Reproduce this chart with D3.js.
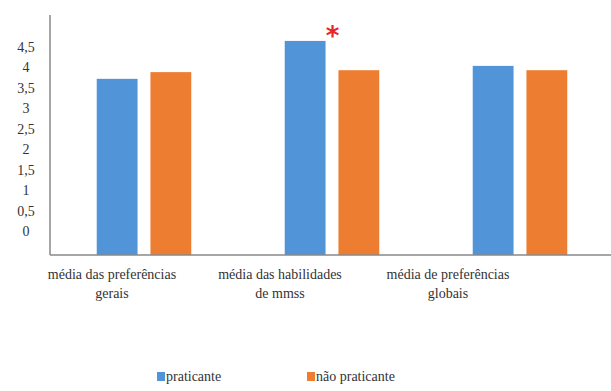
<!DOCTYPE html>
<html>
<head>
<meta charset="utf-8">
<script src="https://cdn.jsdelivr.net/npm/d3@7"></script>
</head>
<body style="margin:0;background:#fff">
<svg id="chart" width="611" height="391" font-family="Liberation Serif" style="display:block"></svg>
<script>
// Category labels (two lines each)
const categories = ["preferencias", "habilidades", "globais"];
const categoryLines = [
  ["média das preferências", "gerais"],
  ["média das habilidades", "de mmss"],
  ["média de preferências", "globais"]
];
const seriesNames = ["praticante", "não praticante"];
const praticante = [3.67, 4.46, 3.94];
const naoPraticante = [3.81, 3.85, 3.85];
const tickValues = [0, 0.5, 1, 1.5, 2, 2.5, 3, 3.5, 4, 4.5];
const tickLabels = ["0", "0,5", "1", "1,5", "2", "2,5", "3", "3,5", "4", "4,5"];
const significant = ["habilidades"]; // group with marked difference (praticante)

const colors = ["#5195d8", "#ed7d31"];
const serif = "Liberation Serif";

const svg = d3.select("#chart");

// Value scale and category scales
const y = d3.scaleLinear().domain([0, 5]).range([255, 15]);
const x = d3.scaleBand().domain(categories).range([50, 614]).paddingInner(0).paddingOuter(0);
const xInner = d3.scaleBand().domain(seriesNames).range([0, x.bandwidth()]).paddingInner(0.24).paddingOuter(0.87);

// Tick label column sits in its own slot to the left of the axis line
const yLabels = d3.scaleLinear().domain([0, 4.5]).range([231, 47]);
const labelAxis = d3.axisLeft(yLabels)
  .tickValues(tickValues)
  .tickFormat((d, i) => tickLabels[i])
  .tickSize(0)
  .tickPadding(0);
const gy = svg.append("g").attr("transform", "translate(26,0)").call(labelAxis);
gy.attr("font-family", serif).attr("font-size", 14);
gy.select(".domain").remove();
gy.selectAll("text")
  .attr("text-anchor", "middle")
  .attr("font-family", serif)
  .attr("font-size", 14)
  .attr("fill", "#333");

// Bars
const data = categories.map((c, i) => ({ cat: c, values: [praticante[i], naoPraticante[i]] }));
const groups = svg.append("g").selectAll("g").data(data).join("g")
  .attr("transform", d => `translate(${x(d.cat)},0)`);
groups.selectAll("rect")
  .data(d => d.values.map((v, j) => ({ name: seriesNames[j], v, j })))
  .join("rect")
  .attr("x", d => xInner(d.name))
  .attr("width", xInner.bandwidth())
  .attr("y", d => y(d.v))
  .attr("height", d => y(0) - y(d.v))
  .attr("fill", d => colors[d.j]);

// Significance marker above the praticante bar
svg.append("g").selectAll("text").data(significant).join("text")
  .attr("x", d => x(d) + xInner(seriesNames[0]) + xInner.bandwidth() + 7)
  .attr("y", d => y(praticante[categories.indexOf(d)]) + 4)
  .attr("text-anchor", "middle")
  .attr("font-family", "DejaVu Sans")
  .attr("font-size", 26)
  .attr("font-weight", "bold")
  .attr("fill", "#e8262a")
  .text("*");

// Axis lines
svg.append("line")
  .attr("x1", 50).attr("x2", 50)
  .attr("y1", y(5)).attr("y2", y(0))
  .attr("stroke", "#888").attr("stroke-width", 1.5);
svg.append("line")
  .attr("x1", 50).attr("x2", 611)
  .attr("y1", y(0)).attr("y2", y(0))
  .attr("stroke", "#888").attr("stroke-width", 1.5);

// Category labels
const xLabel = d3.scalePoint().domain(categories).range([112, 448]);
const catText = svg.append("g").attr("font-family", serif).selectAll("text").data(categories).join("text")
  .attr("x", d => xLabel(d))
  .attr("y", 279)
  .attr("text-anchor", "middle")
  .attr("font-family", serif)
  .attr("font-size", 14)
  .attr("fill", "#333");
catText.selectAll("tspan")
  .data((d, i) => categoryLines[i])
  .join("tspan")
  .attr("x", function() { return d3.select(this.parentNode).attr("x"); })
  .attr("dy", (d, i) => i === 0 ? 0 : 19)
  .text(d => d);

// Legend
const legendX = d3.scalePoint().domain(seriesNames).range([157, 307]);
const legend = svg.append("g").attr("font-family", serif).selectAll("g").data(seriesNames).join("g")
  .attr("transform", d => `translate(${legendX(d)},372)`);
legend.append("rect")
  .attr("width", 8).attr("height", 9)
  .attr("fill", (d, i) => colors[i]);
legend.append("text")
  .attr("x", 9).attr("y", 9)
  .attr("font-family", serif)
  .attr("font-size", 14)
  .attr("fill", "#333")
  .text(d => d);
</script>
</body>
</html>
